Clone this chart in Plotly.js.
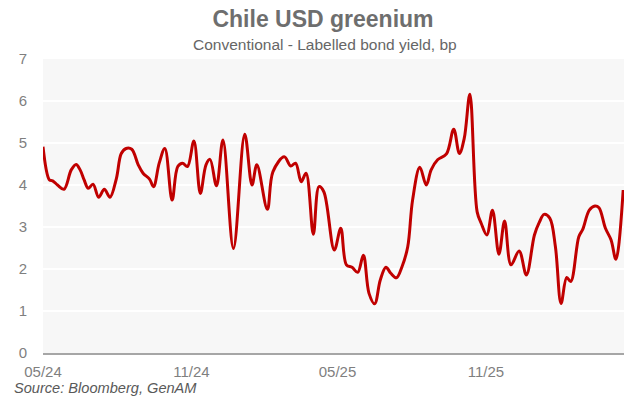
<!DOCTYPE html>
<html>
<head>
<meta charset="utf-8">
<script src="https://cdn.plot.ly/plotly-3.0.1.min.js"></script>
<style>
  html, body { margin: 0; padding: 0; background: #ffffff; }
  #chart { width: 629px; height: 401px; }
</style>
</head>
<body>
<div id="chart"></div>
<script>
// Weekly greenium observations (conventional minus labelled bond yield, bp)
const dates = [
  "2024-05-01","2024-05-09","2024-05-13","2024-05-19","2024-05-27","2024-06-05","2024-06-11","2024-06-16",
  "2024-06-21","2024-06-26","2024-07-02","2024-07-09","2024-07-16","2024-07-23","2024-07-31","2024-08-06",
  "2024-08-12","2024-08-19","2024-08-27","2024-09-02","2024-09-10","2024-09-15","2024-09-22","2024-09-29",
  "2024-10-08","2024-10-15","2024-10-21","2024-10-27","2024-11-04","2024-11-12","2024-11-19","2024-11-24",
  "2024-12-02","2024-12-10","2024-12-23","2025-01-06","2025-01-15","2025-01-21","2025-02-03","2025-02-10",
  "2025-02-24","2025-03-04","2025-03-10","2025-03-17","2025-03-23","2025-04-01","2025-04-08","2025-04-14",
  "2025-04-27","2025-05-05","2025-05-12","2025-05-19","2025-05-26","2025-06-02","2025-06-09","2025-06-16",
  "2025-06-23","2025-06-30","2025-07-06","2025-07-13","2025-07-20","2025-07-27","2025-08-02","2025-08-11",
  "2025-08-19","2025-08-25","2025-09-02","2025-09-13","2025-09-22","2025-09-29","2025-10-05","2025-10-12",
  "2025-10-21","2025-10-26","2025-11-02","2025-11-09","2025-11-17","2025-11-24","2025-12-02","2025-12-12",
  "2025-12-21","2025-12-31","2026-01-06","2026-01-12","2026-01-19","2026-01-26","2026-02-02","2026-02-09",
  "2026-02-14","2026-02-24","2026-03-01","2026-03-09","2026-03-16","2026-03-21","2026-03-29","2026-04-05",
  "2026-04-11","2026-04-20"
];
const greenium = [
  4.91, 4.12, 4.10, 4.00, 3.90, 4.36, 4.49, 4.36,
  4.12, 3.92, 4.02, 3.71, 3.90, 3.71, 4.16, 4.75,
  4.87, 4.85, 4.48, 4.28, 4.14, 3.96, 4.52, 4.87,
  3.64, 4.44, 4.52, 4.44, 5.05, 3.80, 4.48, 4.61,
  3.98, 5.07, 2.49, 5.21, 4.00, 4.48, 3.42, 4.32,
  4.67, 4.45, 4.52, 4.08, 4.28, 2.83, 3.96, 3.84,
  2.45, 2.97, 2.10, 2.04, 1.92, 2.33, 1.42, 1.17,
  1.74, 2.04, 1.90, 1.79, 2.06, 2.53, 3.64, 4.42,
  4.00, 4.36, 4.60, 4.74, 5.33, 4.75, 5.11, 6.16,
  3.36, 3.09, 2.81, 3.40, 2.35, 3.14, 2.10, 2.43,
  1.86, 2.81, 3.11, 3.30, 3.21, 2.53, 1.18, 1.80,
  1.70, 2.77, 2.95, 3.40, 3.50, 3.46, 2.97, 2.69,
  2.23, 3.88
];

const titleText = "Chile USD greenium";
const subtitleText = "Conventional - Labelled bond yield, bp";
const sourceText = "Source: Bloomberg, GenAM";
const yTicks = [0, 1, 2, 3, 4, 5, 6, 7];

const font = "Liberation Sans, Arial, sans-serif";

const trace = {
  x: dates,
  y: greenium,
  type: "scatter",
  mode: "lines",
  line: { color: "#c00000", width: 3, shape: "spline", smoothing: 1 },
  hoverinfo: "x+y"
};

const layout = {
  width: 629,
  height: 401,
  margin: { l: 43, r: 5, t: 59, b: 48 },
  paper_bgcolor: "#ffffff",
  plot_bgcolor: "#f7f7f7",
  showlegend: false,
  font: { family: font, color: "#7f7f7f", size: 15 },
  title: {
    text: "<b>" + titleText + "</b>",
    font: { family: font, size: 23, color: "#6e6e6e" },
    x: 323 / 629, xanchor: "center", xref: "container",
    y: 1 - 19 / 401, yanchor: "middle", yref: "container"
  },
  xaxis: {
    type: "date",
    range: ["2024-05-01", "2026-04-21"],
    tick0: "2024-05-01",
    dtick: "M6",
    tickformat: "%m/%y",
    showgrid: false,
    zeroline: false,
    showline: true,
    linecolor: "#a6a6a6",
    linewidth: 1.5,
    ticks: "outside",
    ticklen: 4,
    tickcolor: "rgba(0,0,0,0)",
    tickfont: { family: font, size: 15, color: "#7f7f7f" },
    fixedrange: true
  },
  yaxis: {
    range: [0, 7],
    tickvals: yTicks,
    ticktext: yTicks.map(String),
    showgrid: true,
    gridcolor: "#ffffff",
    gridwidth: 1.2,
    zeroline: false,
    showline: false,
    ticks: "outside",
    ticklen: 12,
    tickcolor: "rgba(0,0,0,0)",
    tickfont: { family: font, size: 15, color: "#7f7f7f" },
    fixedrange: true
  },
  annotations: [
    {
      text: subtitleText,
      xref: "paper", yref: "paper",
      x: (325 - 43) / 581, y: (353 - 45) / 294,
      xanchor: "center", yanchor: "middle",
      showarrow: false,
      font: { family: font, size: 15.5, color: "#666666" }
    },
    {
      text: "<i>" + sourceText + "</i>",
      xref: "paper", yref: "paper",
      x: (12 - 43) / 581, y: -(388 - 353) / 294,
      xanchor: "left", yanchor: "middle",
      showarrow: false,
      font: { family: font, size: 14.6, color: "#595959" }
    }
  ]
};

Plotly.newPlot("chart", [trace], layout, { displayModeBar: false, staticPlot: true });
</script>
</body>
</html>
